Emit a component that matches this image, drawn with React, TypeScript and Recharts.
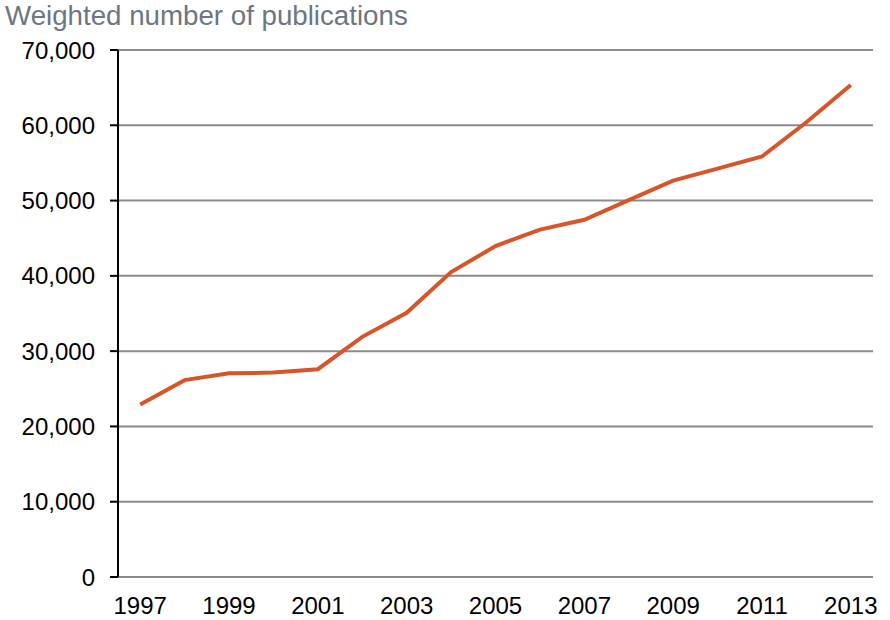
import { LineChart, Line, XAxis, YAxis, CartesianGrid } from "recharts";

const years = [
  1997, 1998, 1999, 2000, 2001, 2002, 2003, 2004, 2005, 2006, 2007, 2008,
  2009, 2010, 2011, 2012, 2013,
];
const publications = [
  22900, 26150, 27050, 27150, 27600, 31900, 35100, 40500, 43950, 46150,
  47450, 50050, 52650, 54250, 55850, 60400, 65350,
];
const yTicks = [0, 10000, 20000, 30000, 40000, 50000, 60000, 70000];
const labelYears = [1997, 1999, 2001, 2003, 2005, 2007, 2009, 2011, 2013];
// tick marks sit between the years, like the original spreadsheet chart
const boundaryTicks = [...years.map((y) => y - 0.5), 2013.5];

const data = years.map((year, i) => ({ year, value: publications[i] }));

const fmt = (v: number) => v.toLocaleString("en-US");

const App = () => {
  return (
    <div style={{ position: "relative", width: 890, height: 620, fontFamily: "'Liberation Sans', Arial, sans-serif" }}>
      <style>{`body { margin: 0; }`}</style>
      <div
        style={{
          position: "absolute",
          left: 5,
          top: 0,
          fontSize: 27.7,
          color: "#6e7681",
          whiteSpace: "nowrap",
        }}
      >
        Weighted number of publications
      </div>
      <LineChart
        width={890}
        height={620}
        data={data}
        margin={{ top: 50, right: 17, left: 0, bottom: 0 }}
      >
        <CartesianGrid vertical={false} stroke="#8c8c8c" strokeWidth={2} />
        <XAxis
          xAxisId="marks"
          dataKey="year"
          type="number"
          domain={[1996.5, 2013.5]}
          ticks={boundaryTicks}
          tick={false}
          tickSize={8}
          height={0}
          axisLine={{ stroke: "#000", strokeWidth: 2 }}
          tickLine={{ stroke: "#000", strokeWidth: 2 }}
        />
        <XAxis
          xAxisId="labels"
          dataKey="year"
          type="number"
          domain={[1996.5, 2013.5]}
          ticks={labelYears}
          interval={0}
          height={43}
          axisLine={false}
          tickLine={false}
          tickSize={8}
          tickMargin={12}
          tick={{ fill: "#000", fontSize: 24 }}
        />
        <YAxis
          type="number"
          domain={[0, 70000]}
          ticks={yTicks}
          tickFormatter={fmt}
          width={118}
          tickSize={8}
          tickMargin={15}
          axisLine={{ stroke: "#000", strokeWidth: 2 }}
          tickLine={{ stroke: "#000", strokeWidth: 2 }}
          tick={{ fill: "#000", fontSize: 24 }}
        />
        <Line
          xAxisId="labels"
          dataKey="value"
          type="linear"
          stroke="#d6562a"
          strokeWidth={4}
          dot={false}
          isAnimationActive={false}
        />
      </LineChart>
    </div>
  );
};

export default App;
